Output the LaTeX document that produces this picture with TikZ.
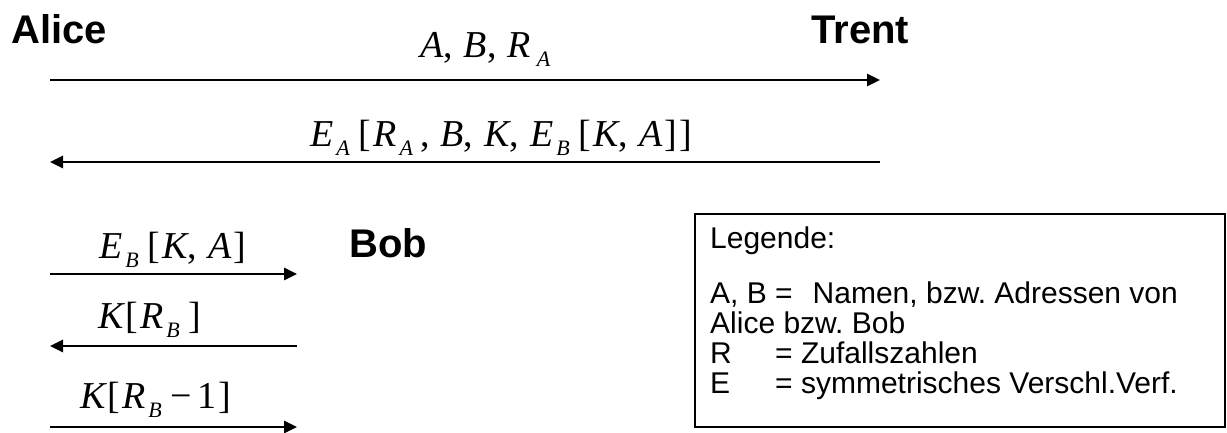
\documentclass[tikz,border=0pt]{standalone}
\usepackage{fontspec}
\setmainfont{Liberation Serif}
\newfontfamily\sansf{Liberation Sans}
\usetikzlibrary{arrows.meta}
\frenchspacing
\newcommand\mv[1]{{\itshape #1}}
\newcommand\subx[2][3pt]{\kern#1\raisebox{-9pt}{\fontsize{22}{22}\selectfont\itshape #2}\kern7pt}
\newcommand\cm{,\kern11pt}
\newcommand\lb{\kern2pt[\kern2pt}
\newcommand\rb{\kern2pt]}
\begin{document}
\begin{tikzpicture}[x=1pt,y=-1pt,
  actor/.style={font=\sansf\bfseries\fontsize{40}{40}\selectfont, anchor=base west, inner sep=0pt},
  msg/.style={font=\fontsize{38}{38}\selectfont, anchor=base west, inner sep=0pt},
  arr/.style={line width=2.6pt, -{Triangle[length=13pt,width=12pt]}},
  leg/.style={font=\sansf\fontsize{30}{30}\selectfont, anchor=base west, inner sep=0pt},
  legbox/.style={draw, line width=2pt, minimum width=530pt, minimum height=213pt, inner sep=0pt, anchor=north west}]
\useasboundingbox (0,0) rectangle (1227,432);
% actors
\node[actor] (alice) at (11,43) {Alice};
\node[actor] (trent) at (811,43) {Trent};
\node[actor] (bob) at (349,257) {Bob};
% arrow end points
\coordinate (a1) at (50,80);  \coordinate (t1) at (880,80);
\coordinate (a2) at (50,162); \coordinate (t2) at (880,162);
\coordinate (a3) at (50,274); \coordinate (b3) at (297,274);
\coordinate (a4) at (50,346); \coordinate (b4) at (297,346);
\coordinate (a5) at (50,427); \coordinate (b5) at (297,427);
\draw[arr] (a1) -- (t1);
\draw[arr] (t2) -- (a2);
\draw[arr] (a3) -- (b3);
\draw[arr] (b4) -- (a4);
\draw[arr] (a5) -- (b5);
% messages
\node[msg] (m1) at (420,57) {\mv{A}\cm\mv{B}\cm\mv{R}\subx[6pt]{A}};
\node[msg] (m2) at (310,146) {\mv{E}\subx{A}\lb\mv{R}\subx{A}\cm\mv{B}\cm\mv{K}\cm\mv{E}\subx{B}\lb\mv{K}\cm\mv{A}\rb\rb};
\node[msg] (m3) at (99,258) {\mv{E}\subx{B}\lb\mv{K}\cm\mv{A}\rb};
\node[msg] (m4) at (98,328) {\mv{K}\lb\mv{R}\subx{B}\rb};
\node[msg] (m5) at (80,408) {\mv{K}\lb\mv{R}\subx{B}\kern2pt\symbol{"2212}\kern5pt1\rb};
% legend
\node[legbox] (legend) at (694,213) {};
\node[leg] (l0) at (710,248) {Legende:};
\node[leg] (l1) at (710,303) {\makebox[65pt][l]{A, B}=\hspace{20pt}Namen, bzw. Adressen von};
\node[leg] (l2) at (710,333) {Alice bzw. Bob};
\node[leg] (l3) at (710,363) {\makebox[65pt][l]{R}= Zufallszahlen};
\node[leg] (l4) at (710,393) {\makebox[65pt][l]{E}= symmetrisches Verschl.Verf.};
\end{tikzpicture}
\end{document}
